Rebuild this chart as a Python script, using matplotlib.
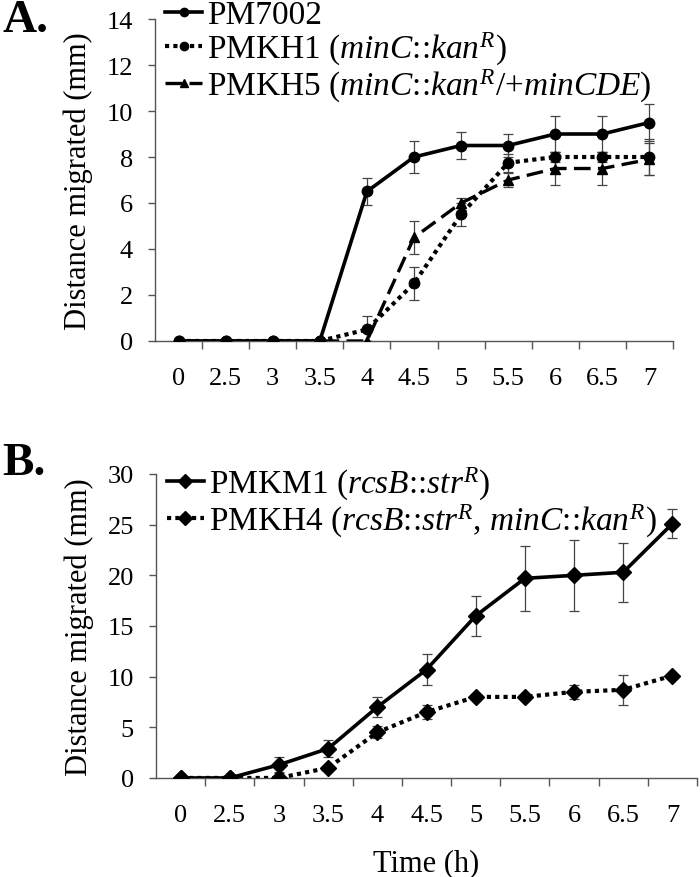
import numpy as np
import matplotlib
matplotlib.use('Agg')
from matplotlib import pyplot as plt

plt.rcParams['font.family'] = ['Liberation Serif', 'DejaVu Serif']
plt.rcParams['mathtext.fontset'] = 'custom'
plt.rcParams['mathtext.rm'] = 'Liberation Serif'
plt.rcParams['mathtext.it'] = 'Liberation Serif:italic'

# time points (h), shown as categories
times = ['0', '2.5', '3', '3.5', '4', '4.5', '5', '5.5', '6', '6.5', '7']

# panel A
pm7002 = [0, 0, 0, 0, 6.5, 8, 8.5, 8.5, 9, 9, 9.5]
pm7002_err = [0, 0, 0, 0, 0.6, 0.7, 0.6, 0.5, 0.8, 0.8, 0.8]
pmkh1 = [0, 0, 0, 0, 0.5, 2.5, 5.5, 7.75, 8, 8, 8]
pmkh1_err = [0, 0, 0, 0, 0.6, 0.7, 0.5, 0.4, 0.2, 0.2, 0.8]
pmkh5 = [0, 0, 0, 0, 0, 4.5, 6, 7, 7.5, 7.5, 7.9]
pmkh5_err = [0, 0, 0, 0, 0, 0.7, 0.2, 0.3, 0.7, 0.7, 0.7]

# panel B
pmkm1 = [0, 0, 1.3, 2.9, 7.0, 10.7, 16.0, 19.7, 20.0, 20.3, 25.1]
pmkm1_err = [0, 0, 0.8, 0.8, 1.0, 1.5, 2.0, 3.2, 3.5, 2.9, 1.4]
pmkh4 = [0, 0, 0, 1.0, 4.5, 6.5, 8.0, 8.0, 8.5, 8.7, 10.1]
pmkh4_err = [0, 0, 0.6, 0, 0.6, 0.7, 0, 0, 0.7, 1.5, 0]

labels_a = ['PM7002',
            r'PMKH1 ($\mathit{minC}$::$\mathit{kan}^{\mathit{R}}$)',
            r'PMKH5 ($\mathit{minC}$::$\mathit{kan}^{\mathit{R}}$/+$\mathit{minCDE}$)']
labels_b = [r'PMKM1 ($\mathit{rcsB}$::$\mathit{str}^{\mathit{R}}$)',
            r'PMKH4 ($\mathit{rcsB}$::$\mathit{str}^{\mathit{R}}$, $\mathit{minC}$::$\mathit{kan}^{\mathit{R}}$)']

dotted = (0, (1, 1))
dashed = (0, (5, 2.2))
axis_grey = '#555555'
tick_fs = 19
label_fs = 22
legend_fs = 24


def style_axes(ax, ymax, ystep):
    x = np.arange(len(times))
    ax.set_xlim(-0.5, len(times) - 0.5)
    ax.set_ylim(0, ymax)
    ax.set_yticks(np.arange(0, ymax + 0.1, ystep))
    ax.set_xticks(x, labels=times)
    ax.set_xticks(np.arange(0.5, len(times)), minor=True)
    ax.tick_params(axis='x', which='major', length=0, pad=19, labelsize=tick_fs)
    ax.tick_params(axis='x', which='minor', length=6, width=1, color=axis_grey, direction='out')
    ax.tick_params(axis='y', length=5, width=1, color=axis_grey, pad=11, labelsize=tick_fs)
    for s in ['top', 'right']:
        ax.spines[s].set_visible(False)
    for s in ['left', 'bottom']:
        ax.spines[s].set_color(axis_grey)
        ax.spines[s].set_linewidth(1)
    ax.set_ylabel('Distance migrated (mm)', fontsize=label_fs)


fig = plt.figure(figsize=(7, 8.78), dpi=100)

# ---- panel A
ax1 = fig.add_axes([0.2214, 0.6105, 0.74, 0.3667])
x = np.arange(len(times))
for y, e in [(pm7002, pm7002_err), (pmkh1, pmkh1_err), (pmkh5, pmkh5_err)]:
    ax1.errorbar(x, y, yerr=e, fmt='none', ecolor='#444444', elinewidth=0.9, capsize=3.5, capthick=0.9, zorder=2)
l1, = ax1.plot(x, pm7002, color='black', lw=2.6, marker='o', ms=7.5, zorder=3)
l2, = ax1.plot(x, pmkh1, color='black', lw=3, ls=dotted, marker='o', ms=7.5, zorder=3)
l3, = ax1.plot(x, pmkh5, color='black', lw=2.4, ls=dashed, marker='^', ms=7.5, zorder=3)
style_axes(ax1, 14, 2)
ax1.yaxis.set_label_coords(-0.12, 0.5)
ax1.legend([l1, l2, l3], labels_a, loc='upper left', bbox_to_anchor=(0.02, 1.06),
           frameon=False, fontsize=legend_fs, handlelength=1.1, handletextpad=0.15,
           labelspacing=0.0, borderaxespad=0, borderpad=0, markerscale=0.8)
fig.text(0.003, 0.976, 'A.', fontsize=34, fontweight='bold', va='center', ha='left')

# ---- panel B
ax2 = fig.add_axes([0.2229, 0.1128, 0.7728, 0.3462])
for y, e in [(pmkm1, pmkm1_err), (pmkh4, pmkh4_err)]:
    ax2.errorbar(x, y, yerr=e, fmt='none', ecolor='#444444', elinewidth=0.9, capsize=3.5, capthick=0.9, zorder=2)
m1, = ax2.plot(x, pmkm1, color='black', lw=2.6, marker='D', ms=8.5, zorder=3)
m2, = ax2.plot(x, pmkh4, color='black', lw=3, ls=dotted, marker='D', ms=8.5, zorder=3)
style_axes(ax2, 30, 5)
ax2.yaxis.set_label_coords(-0.115, 0.5)
ax2.set_xlabel('Time (h)', fontsize=label_fs, labelpad=16)
ax2.legend([m1, m2], labels_b, loc='upper left', bbox_to_anchor=(0.02, 1.03),
           frameon=False, fontsize=legend_fs, handlelength=1.1, handletextpad=0.15,
           labelspacing=0.0, borderaxespad=0, borderpad=0, markerscale=0.8)
fig.text(0.003, 0.472, 'B.', fontsize=34, fontweight='bold', va='center', ha='left')

fig.savefig('out.png', dpi=100)
